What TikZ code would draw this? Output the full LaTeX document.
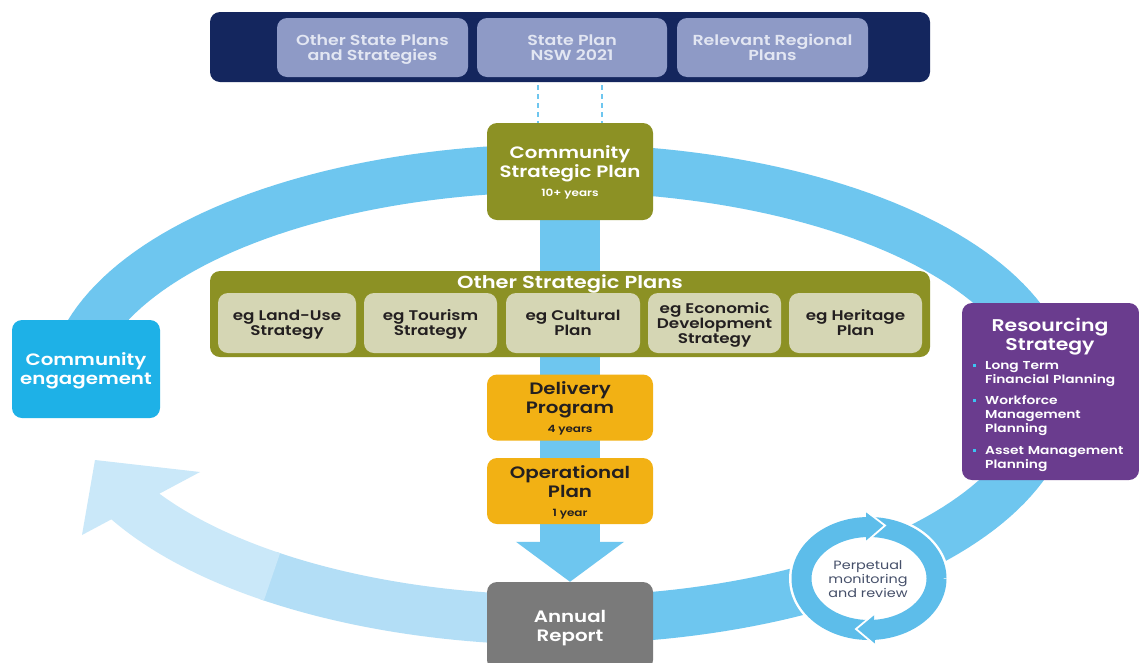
\documentclass[tikz,border=0pt]{standalone}
\usepackage{fontspec}
\setmainfont{Poppins}[FakeStretch=1.2, BoldFont={Poppins SemiBold}]
\usetikzlibrary{arrows.meta,calc}

\definecolor{barnavy}{HTML}{14265E}
\definecolor{barslate}{HTML}{8E9AC6}
\definecolor{bartext}{HTML}{E2E6F2}
\definecolor{cspolive}{HTML}{8C9124}
\definecolor{ospkhaki}{HTML}{D5D6B4}
\definecolor{inktext}{HTML}{231F20}
\definecolor{cebox}{HTML}{1EB1E7}
\definecolor{planamber}{HTML}{F2B114}
\definecolor{reportgrey}{HTML}{7A7A7A}
\definecolor{rspurple}{HTML}{6A3C8E}
\definecolor{bulletcyan}{HTML}{3CC3F2}
\definecolor{ringblue}{HTML}{6EC6EF}
\definecolor{paleblue}{HTML}{B3DEF6}
\definecolor{palerblue}{HTML}{CAE8F9}
\definecolor{loopblue}{HTML}{5DBDEA}
\definecolor{looptext}{HTML}{46506A}

\newcommand\fsBig{\fontsize{16.5}{19}\selectfont}
\newcommand\fsMid{\fontsize{14.5}{15}\selectfont}
\newcommand\fsInner{\fontsize{14}{15}\selectfont}
\newcommand\fsSmall{\fontsize{10}{12}\selectfont}
\newcommand\fsBul{\fontsize{11.5}{13.8}\selectfont}
\newcommand\fsLoop{\fontsize{12}{14}\selectfont}
\newcommand\bul{\leavevmode\llap{\textcolor{bulletcyan}{\rule[2.5pt]{3pt}{3pt}}\hspace{9pt}}}

\pgfdeclarelayer{paper}
\pgfdeclarelayer{background}
\pgfsetlayers{paper,background,main}

\begin{document}
\begin{tikzpicture}[x=1pt,y=-1pt,
  box/.style={rounded corners=10pt, inner sep=0pt, align=center, text depth=0pt, font=\bfseries},
  barbox/.style={box, fill=barslate, text=bartext, minimum width=191pt, minimum height=59pt, font=\bfseries\fsMid},
  ospbox/.style={box, fill=ospkhaki, text=inktext, minimum height=60pt, font=\bfseries\fsInner},
  planbox/.style={box, fill=planamber, text=inktext, minimum width=166pt, font=\bfseries\fsBig},
  ringband/.style={draw=ringblue, line width=48pt},
  flowband/.style={draw=ringblue, line width=60pt, -{Triangle[width=106pt,length=40pt]}},
  dashlink/.style={draw=ringblue, line width=1.6pt, dash pattern=on 5pt off 4pt},
  loopring/.style={draw=loopblue, line width=20pt}
]
\begin{pgfonlayer}{paper}
\fill[white] (0,0) rectangle (1139,662);
\end{pgfonlayer}
\useasboundingbox (0,0) rectangle (1139,662);

% outer planning cycle
\draw[ringband] plot[domain=-95:180, samples=160] ({560+490*cos(\x)},{394-226*sin(\x)});
\draw[draw=paleblue, line width=50pt] plot[domain=266:233.5, samples=40] ({560+490*cos(\x)},{394-226*sin(\x)});
\draw[draw=palerblue, line width=50pt] plot[domain=234:205, samples=40] ({560+490*cos(\x)},{394-226*sin(\x)});
\fill[palerblue] (200,472) -- (95,460) -- (82,535) -- cycle;

% monitoring loop
\coordinate (loop) at (869,578.5);
\fill[white] (loop) ellipse [x radius=80pt, y radius=64pt];
\draw[loopring] plot[domain=0:360, samples=120] ({869+67.5*cos(\x)},{578.5-51.5*sin(\x)});
\fill[loopblue] (866,512) -- (885,525.5) -- (866,541) -- cycle;
\draw[white, line width=1.8pt, line join=miter] (866,511) -- (885,525.5) -- (866,542);
\fill[loopblue] (874,615) -- (856,629) -- (875,644) -- cycle;
\draw[white, line width=1.8pt, line join=miter] (874,614) -- (856,629) -- (875,645);
\node[font=\fsLoop, text=looptext, align=center, inner sep=0pt] (monitor) at (868,579.5) {Perpetual\\monitoring\\and review};

% state level plans
\node[box, fill=barnavy, minimum width=720pt, minimum height=70pt] (bar) at (570,47) {};
\node[barbox] (sp1) at (372.5,47.5) {Other State Plans\\and Strategies};
\node[barbox, minimum width=190pt] (sp2) at (572,47.5) {State Plan\\NSW 2021};
\node[barbox] (sp3) at (772.5,47.5) {Relevant Regional\\Plans};

% council plans
\node[box, fill=cspolive, text=white, minimum width=166pt, minimum height=97pt, font=\bfseries\fsBig] (csp) at (570,171.5) {Community\\Strategic Plan\\{\fsSmall 10+ years}};
\node[planbox, minimum height=66pt] (dp) at (570,407.5) {Delivery\\Program\\{\fsSmall 4 years}};
\node[planbox, minimum height=66pt] (op) at (570,491) {Operational\\Plan\\{\fsSmall 1 year}};
\node[box, fill=reportgrey, text=white, minimum width=166pt, minimum height=88pt, font=\bfseries\fsBig] (ar) at (570,626) {Annual\\Report};

\node[box, fill=cspolive, minimum width=720pt, minimum height=86pt] (osp) at (570,314) {};
\node[text=white, font=\bfseries\fontsize{17.5}{19}\selectfont, inner sep=0pt, text depth=0pt] (osptitle) at (570,282) {Other Strategic Plans};
\node[ospbox, minimum width=138pt] (os1) at (287,323) {eg Land-Use\\Strategy};
\node[ospbox, minimum width=133pt] (os2) at (430.5,323) {eg Tourism\\Strategy};
\node[ospbox, minimum width=134pt] (os3) at (573,323) {eg Cultural\\Plan};
\node[ospbox, minimum width=133pt] (os4) at (714.5,323) {eg Economic\\Development\\Strategy};
\node[ospbox, minimum width=133pt] (os5) at (855.5,323) {eg Heritage\\Plan};

\node[box, fill=cebox, text=white, minimum width=148pt, minimum height=98pt, font=\bfseries\fsBig] (ce) at (86,369) {Community\\engagement};

\node[box, fill=rspurple, minimum width=177pt, minimum height=177pt] (rs) at (1050.5,391.5) {};
\node[text=white, font=\bfseries\fontsize{17}{19.5}\selectfont, align=center, inner sep=0pt, text depth=0pt] (rstitle) at (1050,334.5) {Resourcing\\Strategy};
\node[text=white, font=\bfseries\fsBul, align=left, text width=150pt, inner sep=0pt, anchor=north west] (rslist) at (985,361)
  {\bul Long Term\\Financial Planning\\[8pt]\bul Workforce\\Management\\Planning\\[8pt]\bul Asset Management\\Planning};

% flows between plans
\begin{pgfonlayer}{background}
\draw[flowband] (csp.south) -- (ar.north);
\end{pgfonlayer}
\foreach \dx in {-32,32}
  \draw[dashlink] ([xshift=\dx pt]bar.south) ++(0,3) -- ([xshift=\dx pt]csp.north);
\end{tikzpicture}
\end{document}
